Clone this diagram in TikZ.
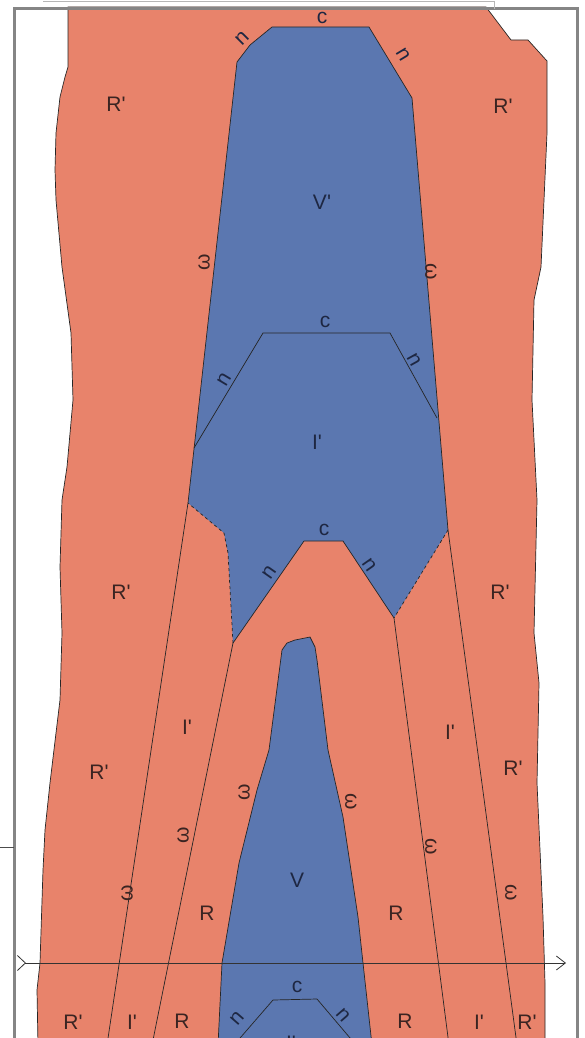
\documentclass[tikz,border=0pt]{standalone}
\usepackage{fontspec}
\newfontfamily\labfont{Liberation Sans}
\usetikzlibrary{arrows.meta}
\definecolor{salmon}{HTML}{E8836B}
\definecolor{slate}{HTML}{5B77B0}
\definecolor{inkred}{HTML}{3A2422}
\definecolor{inkblue}{HTML}{1E2742}
\definecolor{framegray}{HTML}{858585}
\tikzset{
  lab/.style={font=\labfont\fontsize{21}{25}\selectfont, text=inkred, inner sep=0pt},
  labb/.style={lab, text=inkblue},
  edge/.style={draw=black!85, line width=0.7pt},
}
\begin{document}
\begin{tikzpicture}[x=1pt, y=-1pt]
  \useasboundingbox (0,0) rectangle (584,1038);
  \clip (0,0) rectangle (584,1038);
  \fill[white] (0,0) rectangle (584,1038);

  % corners shared by the regions and the lines
  \coordinate (vpL) at (188,503);
  \coordinate (vpR) at (448,530);
  \coordinate (archL) at (233,643);
  \coordinate (archR) at (394,618);

  % outer R' region
  \filldraw[salmon, edge] (68,7) -- (68,67) -- (65,77) -- (60,97) -- (56,133) -- (55,170)
    -- (56,200) -- (62,267) -- (71,333) -- (73,400) -- (67,467) -- (62,500) -- (60,567)
    -- (62,633) -- (60,700) -- (56,733) -- (50,783) -- (45,830) -- (43,870) -- (40,963)
    -- (37,990) -- (38,1045) -- (545,1045) -- (545,983) -- (543,917) -- (537,783)
    -- (539,683) -- (534,633) -- (537,500) -- (532,400) -- (534,300) -- (541,267)
    -- (547,133) -- (547,61) -- (528,40) -- (511,40) -- (486,7) -- cycle;

  % upper blue region V' and I'
  \fill[slate] (272,27) -- (369,27) -- (412,98) -- (vpR) -- (archR) -- (343,541) -- (304,541)
    -- (archL) -- (228,553) -- (224,533) -- (vpL) -- (237,62) -- (250,45) -- cycle;
  \draw[edge] (vpL) -- (237,62) -- (250,45) -- (272,27) -- (369,27) -- (412,98) -- (vpR);
  \draw[edge, dashed] (vpR) -- (archR);
  \draw[edge] (archR) -- (343,541) -- (304,541) -- (archL);
  \draw[edge, dashed] (archL) -- (228,553) -- (224,533) -- (vpL);
  \draw[edge] (194,448) -- (263,333) -- (390,333) -- (437,418);

  % lower blue region V
  \filldraw[slate, edge] (282,650) -- (287,643) -- (295,640) -- (310,637) -- (315,647)
    -- (317,660) -- (328,750) -- (343,817) -- (358,917) -- (363,963) -- (372,1045)
    -- (218,1045) -- (222,963) -- (239,863) -- (257,790) -- (269,750) -- cycle;
  \draw[edge] (234,1045) -- (273,1000) -- (317,999) -- (356,1045);

  % lines through the red
  \draw[edge] (vpL) -- (107,1045);
  \draw[edge] (archL) -- (152,1045);
  \draw[edge] (archR) -- (449,1045);
  \draw[edge] (vpR) -- (517,1045);

  % axis
  \coordinate (axisL) at (17,963);
  \coordinate (axisR) at (566,963);
  \draw[black!80, line width=0.8pt,
    {Straight Barb[reversed,length=8pt,width=15pt]}-{Straight Barb[length=9pt,width=14pt]}]
    (axisL) -- (axisR);

  % labels, top part
  \node[labb] (cA) at (322,18) {c};
  \node[labb, rotate=45] (nAl) at (242,38) {n};
  \node[labb, rotate=-59] (nAr) at (403,55) {n};
  \node[lab] (rpAl) at (116,104) {R'};
  \node[lab] (rpAr) at (503,106) {R'};
  \node[labb] (vp) at (322,202) {V'};
  \node[lab, rotate=90] (wAl) at (204,262) {ω};
  \node[lab, rotate=-90] (wAr) at (431,272) {ω};
  \node[labb] (cB) at (325,322) {c};
  \node[labb, rotate=59] (nBl) at (224,380) {n};
  \node[labb, rotate=-61] (nBr) at (414,360) {n};
  \node[labb] (ip) at (317,442) {I'};
  \node[labb] (cC) at (324,530) {c};
  \node[labb, rotate=55] (nCl) at (269,572) {n};
  \node[labb, rotate=-55] (nCr) at (369,565) {n};
  \node[lab] (rpBl) at (121,592) {R'};
  \node[lab] (rpBr) at (500,592) {R'};

  % labels, lower part
  \node[lab] (ipl) at (187,727) {I'};
  \node[lab] (ipr) at (450,732) {I'};
  \node[lab] (rpCl) at (99,772) {R'};
  \node[lab] (rpCr) at (513,768) {R'};
  \node[lab, rotate=90] (wBl) at (244,792) {ω};
  \node[lab, rotate=-90] (wBr) at (351,802) {ω};
  \node[lab, rotate=90] (wCl) at (183,835) {ω};
  \node[lab, rotate=-90] (wCr) at (431,847) {ω};
  \node[lab, rotate=90] (wDl) at (127,893) {ω};
  \node[lab, rotate=-90] (wDr) at (511,893) {ω};
  \node[labb] (v) at (297,880) {V};
  \node[lab] (rl) at (207,913) {R};
  \node[lab] (rr) at (396,913) {R};
  \node[labb] (cD) at (297,987) {c};
  \node[labb, rotate=49] (nDl) at (237,1018) {n};
  \node[labb, rotate=-49] (nDr) at (343,1015) {n};
  \node[lab] (rpDl) at (73,1022) {R'};
  \node[lab] (ipDl) at (132,1022) {I'};
  \node[lab] (rDl) at (182,1021) {R};
  \node[lab] (rDr) at (405,1021) {R};
  \node[lab] (ipDr) at (479,1022) {I'};
  \node[lab] (rpDr) at (527,1022) {R'};
  \node[labb] (ipD) at (291,1043) {I'};

  % frame
  \draw[framegray, line width=3pt] (14,1045) -- (14,9) -- (577,9) -- (577,1045);
  \draw[framegray!60, line width=0.8pt] (43,1.5) -- (494,1.5) -- (494,9);
  \draw[black!70, line width=0.8pt] (0,847) -- (14,847);
\end{tikzpicture}
\end{document}
